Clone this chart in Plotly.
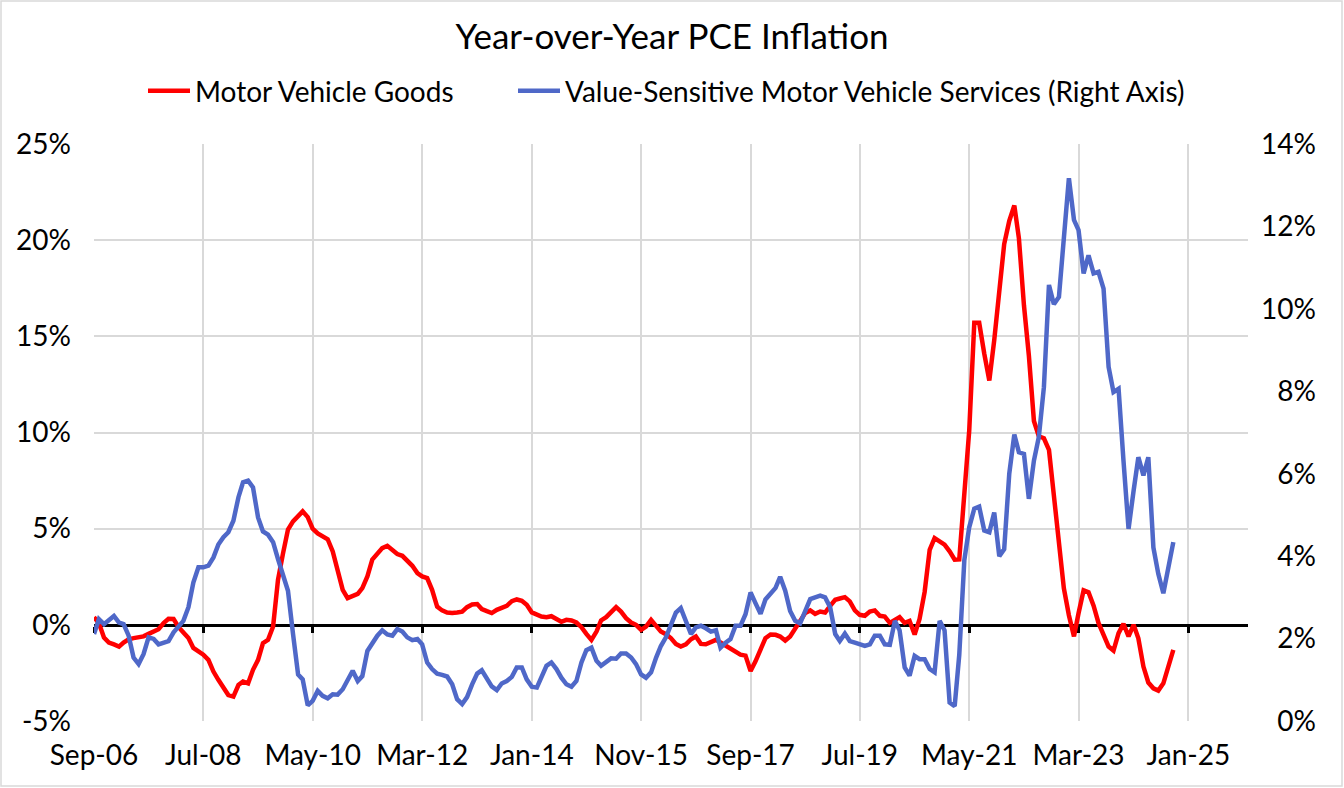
import pandas as pd
import plotly.graph_objects as go

# Monthly year-over-year PCE inflation, Sep-06 onward
start_month = "2006-09-01"

motor_vehicle_goods = [
    0.40, 0.09, -0.66, -0.92, -1.02, -1.13, -0.92, -0.75, -0.69, -0.66,
    -0.60, -0.47, -0.33, -0.23, 0.09, 0.31, 0.30, -0.12, -0.40, -0.69,
    -1.20, -1.39, -1.55, -1.82, -2.43, -2.86, -3.30, -3.65, -3.73, -3.13,
    -2.95, -3.04, -2.34, -1.82, -0.95, -0.78, -0.09, 2.34, 3.73, 4.95,
    5.38, 5.64, 5.90, 5.60, 5.00, 4.75, 4.60, 4.45, 3.82, 2.78,
    1.82, 1.39, 1.48, 1.61, 1.91, 2.52, 3.39, 3.73, 3.99, 4.11,
    3.87, 3.68, 3.59, 3.35, 3.07, 2.69, 2.52, 2.43, 1.82, 0.95,
    0.75, 0.64, 0.61, 0.64, 0.68, 0.92, 1.06, 1.08, 0.82, 0.71,
    0.61, 0.78, 0.89, 0.99, 1.23, 1.32, 1.25, 1.04, 0.65, 0.52,
    0.43, 0.40, 0.45, 0.30, 0.16, 0.26, 0.23, 0.12, -0.12, -0.47,
    -0.78, -0.35, 0.23, 0.40, 0.64, 0.92, 0.69, 0.35, 0.12, 0.00,
    -0.26, -0.09, 0.26, -0.09, -0.35, -0.49, -0.69, -0.99, -1.13, -1.01,
    -0.75, -0.61, -0.99, -1.01, -0.89, -0.78, -0.92, -1.08, -1.30, -1.44,
    -1.55, -1.60, -2.40, -1.90, -1.22, -0.69, -0.50, -0.52, -0.61, -0.82,
    -0.61, -0.17, 0.26, 0.61, 0.75, 0.57, 0.69, 0.64, 0.99, 1.30,
    1.37, 1.44, 1.22, 0.75, 0.52, 0.47, 0.69, 0.75, 0.47, 0.43,
    0.10, 0.23, 0.40, 0.10, 0.20, -0.50, 0.30, 1.70, 3.90, 4.51,
    4.34, 4.17, 3.82, 3.39, 3.40, 6.50, 10.10, 15.70, 15.70, 14.10,
    12.70, 14.80, 17.30, 19.80, 21.00, 21.80, 20.10, 16.60, 14.00, 10.60,
    9.80, 9.70, 9.10, 6.80, 4.50, 1.90, 0.50, -0.60, 0.60, 1.80,
    1.70, 1.00, 0.10, -0.50, -1.13, -1.34, -0.43, 0.05, -0.60, 0.00,
    -0.70, -2.17, -3.00, -3.30, -3.42, -3.04, -2.17, -1.30,
]

value_sensitive_services = [
    2.11, 2.47, 2.35, 2.45, 2.55, 2.39, 2.35, 2.07, 1.54, 1.38,
    1.62, 2.03, 1.99, 1.86, 1.90, 1.94, 2.15, 2.29, 2.43, 2.76,
    3.36, 3.73, 3.73, 3.77, 3.97, 4.28, 4.46, 4.58, 4.86, 5.43,
    5.79, 5.83, 5.67, 4.94, 4.60, 4.52, 4.34, 3.93, 3.57, 3.16,
    2.11, 1.13, 1.01, 0.38, 0.49, 0.73, 0.61, 0.55, 0.65, 0.64,
    0.77, 1.01, 1.22, 0.97, 1.09, 1.70, 1.90, 2.07, 2.20, 2.10,
    2.07, 2.23, 2.17, 2.03, 1.96, 1.99, 1.86, 1.42, 1.26, 1.15,
    1.12, 1.08, 0.89, 0.53, 0.41, 0.58, 0.89, 1.15, 1.23, 1.03,
    0.84, 0.75, 0.91, 0.97, 1.07, 1.30, 1.30, 1.01, 0.83, 0.81,
    1.05, 1.34, 1.42, 1.26, 1.05, 0.89, 0.83, 0.97, 1.42, 1.72,
    1.78, 1.46, 1.34, 1.42, 1.52, 1.51, 1.64, 1.64, 1.54, 1.38,
    1.13, 1.05, 1.18, 1.54, 1.82, 2.03, 2.31, 2.63, 2.74, 2.43,
    2.11, 2.27, 2.31, 2.25, 2.17, 2.20, 1.78, 1.90, 1.99, 2.31,
    2.31, 2.59, 3.12, 2.86, 2.60, 2.95, 3.10, 3.23, 3.50, 3.16,
    2.67, 2.43, 2.37, 2.67, 2.96, 3.00, 3.04, 3.00, 2.76, 2.11,
    1.94, 2.12, 1.94, 1.90, 1.85, 1.82, 1.86, 2.07, 2.07, 1.86,
    1.85, 2.43, 2.20, 1.30, 1.10, 1.58, 1.50, 1.50, 1.26, 1.18,
    2.43, 2.20, 0.45, 0.36, 1.60, 3.90, 4.70, 5.15, 5.20, 4.62,
    4.58, 5.06, 4.00, 4.17, 6.00, 6.95, 6.52, 6.48, 5.39, 6.32,
    6.89, 8.10, 10.58, 10.11, 10.29, 11.67, 13.17, 12.16, 11.91, 10.86,
    11.30, 10.86, 10.90, 10.49, 8.59, 7.98, 8.06, 6.32, 4.66, 5.59,
    6.40, 5.96, 6.40, 4.21, 3.57, 3.10, 3.73, 4.34,
]

x_tick_labels = ["Sep-06", "Jul-08", "May-10", "Mar-12", "Jan-14", "Nov-15",
                 "Sep-17", "Jul-19", "May-21", "Mar-23", "Jan-25"]
left_ticks = [-5, 0, 5, 10, 15, 20, 25]
right_ticks = [0, 2, 4, 6, 8, 10, 12, 14]

dates = pd.date_range(start_month, periods=len(motor_vehicle_goods), freq="MS")
x_tick_dates = pd.to_datetime(x_tick_labels, format="%b-%y")
x_range = ["2006-09-01", "2026-01-01"]

W, H = 1344, 788
ML, MR, MT, MB = 94, 96, 144, 67
PW, PH = W - ML - MR, H - MT - MB
FONT = "Lato"
GRID = "#d9d9d9"

fig = go.Figure()
fig.add_trace(go.Scatter(
    x=dates, y=motor_vehicle_goods, name="Motor Vehicle Goods",
    mode="lines", line=dict(color="#ff0000", width=4.5), yaxis="y",
    legend="legend",
))
fig.add_trace(go.Scatter(
    x=dates, y=value_sensitive_services,
    name="Value-Sensitive Motor Vehicle Services (Right Axis)",
    mode="lines", line=dict(color="#4f68c8", width=4.5), yaxis="y2",
    legend="legend2",
))
# invisible copy so the zero-crossing date axis (xaxis2) gets drawn
fig.add_trace(go.Scatter(
    x=dates, y=motor_vehicle_goods, xaxis="x2", yaxis="y", mode="lines",
    line=dict(width=0), opacity=0, showlegend=False, hoverinfo="skip",
))

left_text = [f"{v}%" for v in left_ticks]
# right axis labels are right-aligned in the original, pad single digits
right_text = [("\u2007" if v < 10 else "") + f"{v}%" for v in right_ticks]

legend_y = (H - MB - 91) / PH
legend_style = dict(orientation="h", xanchor="left", y=legend_y, yanchor="middle",
                    itemwidth=42, font=dict(size=28), bgcolor="rgba(0,0,0,0)")

fig.update_layout(
    width=W, height=H,
    margin=dict(l=ML, r=MR, t=MT, b=MB, autoexpand=False),
    paper_bgcolor="white", plot_bgcolor="white",
    font=dict(family=FONT, size=28, color="black"),
    title=dict(text="Year-over-Year PCE Inflation", x=0.5, xanchor="center",
               y=1 - 37 / H, yanchor="middle", font=dict(size=35, color="black")),
    legend=dict(x=(143 - ML) / PW, **legend_style),
    legend2=dict(x=(513 - ML) / PW, **legend_style),
    xaxis=dict(type="date", range=x_range, tickvals=x_tick_dates, ticktext=x_tick_labels,
               showgrid=True, gridcolor=GRID, gridwidth=1.5, showline=False,
               ticks="", ticklabelstandoff=15, zeroline=False, automargin=False),
    xaxis2=dict(type="date", range=x_range, tickvals=x_tick_dates, overlaying="x",
                anchor="free", position=5 / 30, showticklabels=False,
                ticks="outside", ticklen=6, tickwidth=2.5, tickcolor="black",
                showline=True, linecolor="black", linewidth=2.5,
                showgrid=False, zeroline=False, layer="below traces", automargin=False),
    yaxis=dict(range=[-5, 25], tickvals=left_ticks, ticktext=left_text,
               showgrid=True, gridcolor=GRID, gridwidth=1.5, zeroline=False,
               showline=False, ticks="", ticklabelstandoff=22, automargin=False),
    yaxis2=dict(range=[0, 14], tickvals=right_ticks, ticktext=right_text,
                overlaying="y", side="right", showgrid=False, zeroline=False,
                showline=False, ticks="", ticklabelstandoff=12, automargin=False),
    shapes=[dict(type="rect", xref="paper", yref="paper",
                 x0=(1 - ML) / PW, x1=(W - 2 - ML) / PW,
                 y0=(H - MB - (H - 2)) / PH, y1=(H - MB - 1) / PH,
                 line=dict(color=GRID, width=1.5), layer="below")],
)

# drop the browser's default page margin so the chart sits at the window corner
fig.write_html("out.html", config={"displayModeBar": False},
               post_script="document.body.style.margin='0px';")
